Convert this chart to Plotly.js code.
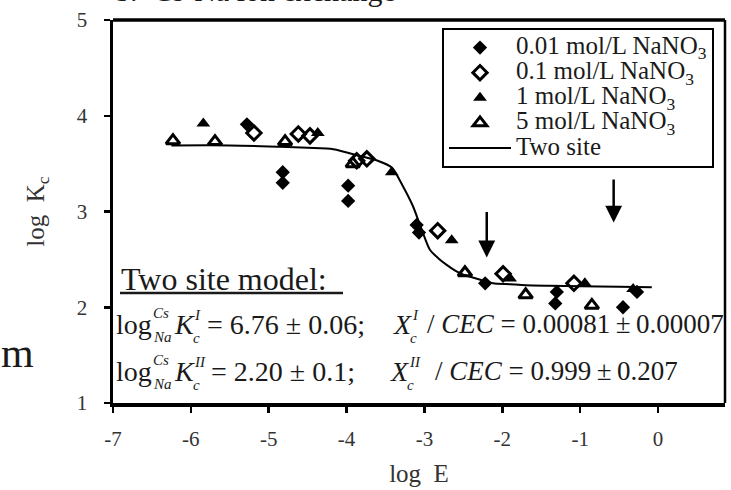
<!DOCTYPE html>
<html>
<head>
<meta charset="utf-8">
<script src="https://cdn.plot.ly/plotly-3.0.1.min.js"></script>
<style>html,body{margin:0;padding:0;background:#fff;}</style>
</head>
<body>
<div id="chart" style="width:731px;height:490px;"></div>
<script>
// Cs-Na exchange: log Kc versus log E at four NaNO3 concentrations
const e001 = [-5.28, -4.82, -4.82, -3.98, -3.98, -3.10, -3.07, -2.22, -1.30, -1.32, -0.45, -0.27];
const k001 = [3.91, 3.41, 3.30, 3.27, 3.11, 2.86, 2.78, 2.25, 2.16, 2.04, 2.00, 2.16];

const e01 = [-5.19, -4.62, -4.47, -3.87, -3.74, -2.83, -1.99, -1.08];
const k01 = [3.82, 3.81, 3.79, 3.53, 3.55, 2.80, 2.35, 2.25];

const e1 = [-5.84, -4.37, -3.42, -2.65, -1.90, -0.94, -0.32];
const k1 = [3.92, 3.82, 3.41, 2.70, 2.30, 2.25, 2.19];

const e5 = [-6.23, -5.69, -4.79, -3.92, -2.48, -1.70, -0.85];
const k5 = [3.74, 3.73, 3.73, 3.50, 2.36, 2.13, 2.02];

// two-site model curve
const fitE = [-6.25, -5.5, -5.0, -4.5, -4.17, -3.83, -3.6, -3.42, -3.28, -3.15, -3.03, -2.93, -2.82, -2.71, -2.6, -2.5, -2.38, -2.25, -2.12, -1.9, -1.7, -1.4, -1.0, -0.5, -0.08];
const fitK = [3.69, 3.69, 3.68, 3.665, 3.65, 3.58, 3.53, 3.46, 3.27, 3.06, 2.80, 2.60, 2.51, 2.44, 2.38, 2.34, 2.31, 2.28, 2.25, 2.24, 2.23, 2.225, 2.22, 2.215, 2.21];

const seriesNames = ['0.01 mol/L NaNO<sub>3</sub>', '0.1 mol/L NaNO<sub>3</sub>', '1 mol/L NaNO<sub>3</sub>', '5 mol/L NaNO<sub>3</sub>', 'Two site'];

const xTickVals = [-7, -6, -5, -4, -3, -2, -1, 0];
const xTickLabels = ['-7', '-6', '-5', '-4', '-3', '-2', '-1', '0'];
const yTickVals = [1, 2, 3, 4, 5];
const yTickLabels = ['1', '2', '3', '4', '5'];

// arrows marking the two site capacities
const arrowE = [-2.20, -0.57];
const arrowFrom = [3.01, 3.35];
const arrowTo = [2.52, 2.885];

const SERIF = 'Liberation Serif';
const INK = '#1a1a1a';
const W = 731, H = 490;
const M = {l: 113, r: 6, t: 20, b: 87};
const PW = W - M.l - M.r, PH = H - M.t - M.b;
const px = p => (p - M.l) / PW;
const py = p => 1 - (p - M.t) / PH;

function big(s) { return '<span style="font-size:25px">' + s + '</span>'; }

function pts(x, y, name, symbol, rank) {
  const open = symbol.indexOf('open') >= 0;
  return {
    type: 'scatter', mode: 'markers', x: x, y: y, name: big(name), legendrank: rank,
    marker: {symbol: symbol, size: symbol.indexOf('diamond') >= 0 ? 11 : 12, color: '#000',
             line: {color: '#000', width: open ? 3 : 0}}
  };
}

const traces = [
  {type: 'scatter', mode: 'lines', x: fitE, y: fitK, name: big(seriesNames[4]), legendrank: 5,
   line: {color: '#000', width: 2, shape: 'spline', smoothing: 0.7}},
  pts(e001, k001, seriesNames[0], 'diamond', 1),
  pts(e01, k01, seriesNames[1], 'diamond-open', 2),
  pts(e1, k1, seriesNames[2], 'triangle-up', 3),
  pts(e5, k5, seriesNames[3], 'triangle-up-open', 4)
];

function note(text, x, y, size, extra) {
  return Object.assign({xref: 'paper', yref: 'paper', x: px(x), y: py(y), xanchor: 'left', yanchor: 'middle',
    showarrow: false, text: text, font: {family: SERIF, size: size, color: INK}}, extra || {});
}

const annotations = [];
// model summary block
annotations.push(note('Two site model:', 119, 279, 32));
[
  {y: 324, sup: 'I', rest: '=\u00a06.76\u00a0±\u00a00.06;', rx: 205, x2: 391, rest2: '/\u00a0<i>CEC</i>\u00a0=\u00a00.00081\u2009±\u20090.00007', r2x: 425},
  {y: 371, sup: 'II', rest: '=\u00a02.20\u00a0±\u00a00.1;', rx: 209, x2: 388, rest2: '/\u00a0<i>CEC</i>\u00a0=\u00a00.999\u2009±\u20090.207', r2x: 433}
].forEach(r => {
  annotations.push(note('log', 114, r.y, 28));
  annotations.push(note('<i>Cs</i>', 151, r.y - 11, 15));
  annotations.push(note('<i>Na</i>', 151, r.y + 13, 15));
  annotations.push(note('<i>K</i>', 172, r.y, 28));
  annotations.push(note('<i>' + r.sup + '</i>', 192, r.y - 9, 15));
  annotations.push(note('<i>c</i>', 191, r.y + 14, 15));
  annotations.push(note(r.rest, r.rx, r.y, 28));
  annotations.push(note('<i>X</i>', r.x2, r.y, 28));
  annotations.push(note('<i>' + r.sup + '</i>', r.x2 + 19, r.y - 9, 15));
  annotations.push(note('<i>c</i>', r.x2 + 17, r.y + 14, 15));
  annotations.push(note(r.rest2, r.r2x, r.y, 27));
});
// cropped heading and margin letter
annotations.push(note('b.\u00a0\u00a0Cs-Na ion exchange', 113, -10, 30));
annotations.push(note('m', -1, 353, 42));

arrowE.forEach((e, i) => {
  annotations.push({xref: 'x', yref: 'y', axref: 'x', ayref: 'y', x: e, y: arrowTo[i], ax: e, ay: arrowFrom[i],
    showarrow: true, arrowhead: 2, arrowsize: 1.35, arrowwidth: 2.5, arrowcolor: '#000', text: ''});
});

const layout = {
  width: W, height: H, margin: M,
  paper_bgcolor: '#fff', plot_bgcolor: '#fff',
  font: {family: SERIF, color: INK},
  showlegend: true,
  legend: {x: px(442), y: py(28), xanchor: 'left', yanchor: 'top', bgcolor: '#fff',
           bordercolor: '#000', borderwidth: 2, font: {family: SERIF, size: 17, color: INK},
           itemwidth: 62, tracegroupgap: 0},
  xaxis: {range: [-7, 0.86], tickvals: xTickVals, ticktext: xTickLabels, showgrid: false, zeroline: false,
          showline: true, linecolor: '#000', linewidth: 3.5, ticks: 'outside', ticklen: 6, tickwidth: 2.5,
          tickcolor: '#000', tickfont: {family: SERIF, size: 21, color: '#333'}, ticklabelstandoff: 8,
          title: {text: 'log\u00a0\u00a0E', font: {family: SERIF, size: 25, color: '#333'}, standoff: 16}},
  yaxis: {range: [1, 5], tickvals: yTickVals, ticktext: yTickLabels, showgrid: false, zeroline: false,
          showline: true, linecolor: '#000', linewidth: 3.5, ticks: 'outside', ticklen: 6, tickwidth: 2.5,
          tickcolor: '#000', tickfont: {family: SERIF, size: 21, color: '#333'}, ticklabelstandoff: 12,
          title: {text: 'log\u00a0\u00a0K<sub>c</sub>', font: {family: SERIF, size: 25, color: '#333'}, standoff: 26}},
  shapes: [
    {type: 'line', xref: 'paper', yref: 'paper', x0: 0, x1: 1, y0: 1, y1: 1, line: {color: '#000', width: 3.5}},
    {type: 'line', xref: 'paper', yref: 'paper', x0: 1, x1: 1, y0: 0, y1: 1, line: {color: '#000', width: 2.5}},
    {type: 'line', xref: 'paper', yref: 'paper', x0: px(120), x1: px(343), y0: py(293), y1: py(293), line: {color: INK, width: 2.5}}
  ],
  annotations: annotations
};

Plotly.newPlot('chart', traces, layout, {displayModeBar: false, staticPlot: true});
</script>
</body>
</html>
